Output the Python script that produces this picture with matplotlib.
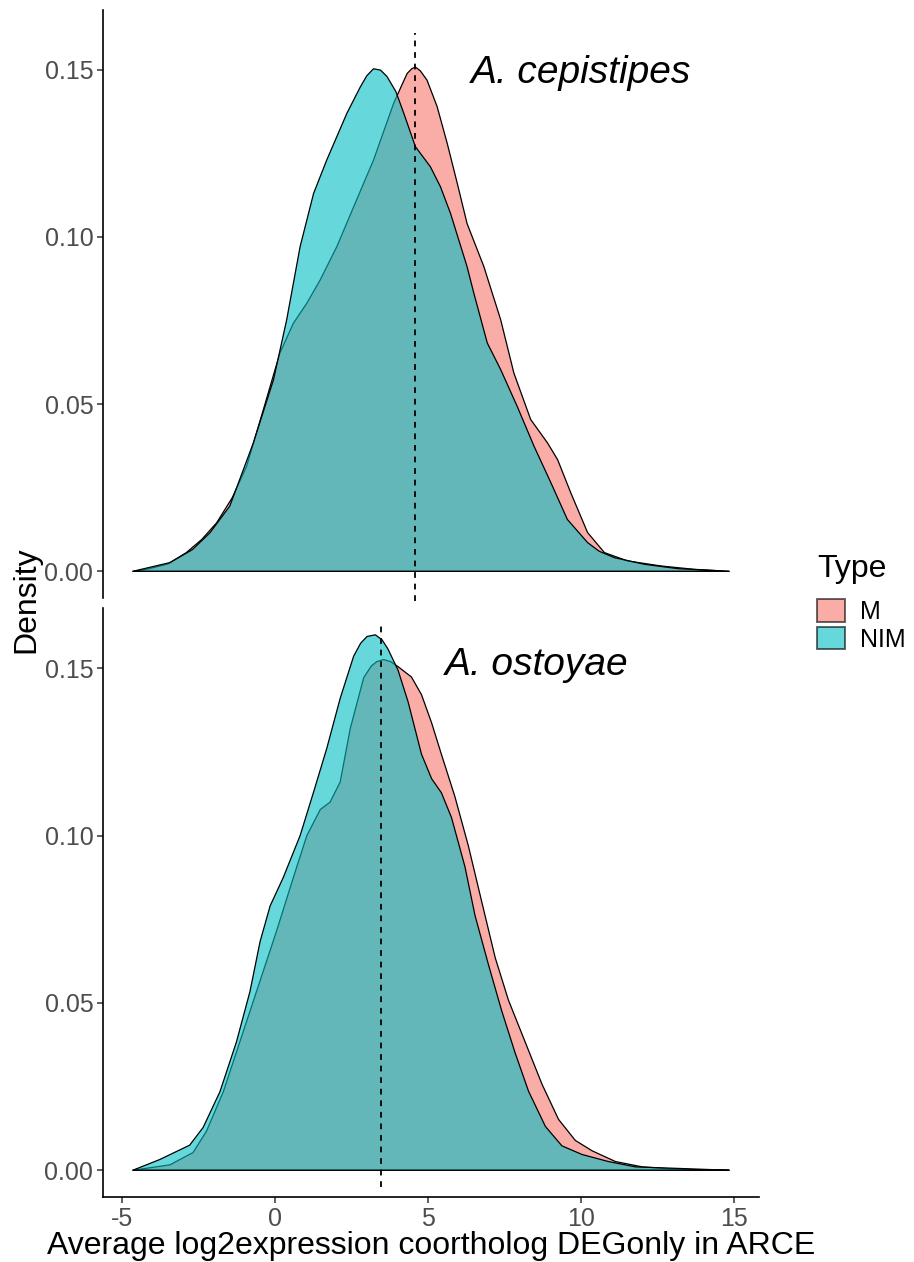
import matplotlib
matplotlib.use("Agg")
import matplotlib.pyplot as plt
from matplotlib.patches import Patch

plt.rcParams['font.family'] = ['Liberation Sans', 'DejaVu Sans']
plt.rcParams['axes.unicode_minus'] = False

# density curves (x = avg log2 expression, y = density)
cep_m_x = [-4.65, -4.2, -3.5, -2.90, -2.4, -1.91, -1.4, -0.93, -0.38, 0.16, 0.60, 1.04,
           1.48, 2.02, 2.57, 3.22, 3.88, 4.15, 4.32, 4.47, 4.59, 4.75, 4.97, 5.30, 5.63,
           5.96, 6.28, 6.83, 7.38, 7.81, 8.36, 8.91, 9.24, 9.67, 10.22, 10.77, 11.53,
           12.62, 13.7, 14.85]
cep_m_y = [0.0, 0.0006, 0.0022, 0.0056, 0.0095, 0.0145, 0.0220, 0.0314, 0.0484, 0.0653,
           0.0742, 0.0802, 0.0872, 0.0971, 0.109, 0.123, 0.140, 0.1455, 0.1489, 0.1503,
           0.1508, 0.1497, 0.1469, 0.139, 0.128, 0.116, 0.104, 0.0911, 0.0752, 0.0593,
           0.0454, 0.0384, 0.0334, 0.0235, 0.0116, 0.0056, 0.0031, 0.0016, 0.0006, 0.0]

cep_nim_x = [-4.65, -3.44, -2.7, -2.13, -1.48, -0.71, -0.05, 0.38, 0.82, 1.26, 1.69, 2.35,
             2.79, 3.0, 3.22, 3.45, 3.66, 3.95, 4.21, 4.59, 5.08, 5.41, 5.74, 6.28, 6.50,
             6.94, 7.38, 7.92, 8.47, 9.02, 9.56, 10.22, 10.6, 11.09, 12.08, 13.17, 14.85]
cep_nim_y = [0.0, 0.0026, 0.0065, 0.0115, 0.0195, 0.0384, 0.0573, 0.0752, 0.0971, 0.113,
             0.123, 0.137, 0.1449, 0.1482, 0.1503, 0.1499, 0.148, 0.1435, 0.137, 0.127,
             0.121, 0.115, 0.107, 0.0911, 0.0832, 0.0683, 0.0603, 0.0493, 0.0374, 0.0265,
             0.0155, 0.0086, 0.0060, 0.0041, 0.0021, 0.0008, 0.0]

ost_m_x = [-4.65, -3.44, -2.68, -2.24, -1.69, -1.15, -0.49, 0.05, 0.60, 1.04, 1.48, 1.80,
           2.13, 2.46, 2.90, 3.15, 3.33, 3.55, 3.78, 4.02, 4.46, 4.79, 5.12, 5.44, 5.88,
           6.32, 6.76, 7.20, 7.63, 8.18, 8.73, 9.27, 9.82, 10.37, 11.13, 12.01, 13.1, 14.85]
ost_m_y = [0.0, 0.0016, 0.0053, 0.0117, 0.0235, 0.0384, 0.0566, 0.0715, 0.0875, 0.100,
           0.1078, 0.110, 0.116, 0.132, 0.1472, 0.1507, 0.152, 0.1526, 0.1520, 0.1505,
           0.1474, 0.1421, 0.1337, 0.1243, 0.1117, 0.097, 0.0802, 0.0635, 0.0509, 0.0383,
           0.0257, 0.0152, 0.0089, 0.0058, 0.0026, 0.001, 0.0003, 0.0]

ost_nim_x = [-4.65, -3.77, -2.79, -2.35, -1.80, -1.26, -0.82, -0.49, -0.16, 0.27, 0.82,
             1.26, 1.69, 2.13, 2.57, 2.80, 3.01, 3.28, 3.50, 3.69, 4.02, 4.35, 4.79, 5.12,
             5.44, 5.77, 6.21, 6.54, 6.98, 7.41, 7.85, 8.29, 8.84, 9.38, 10.04, 10.9,
             11.79, 14.85]
ost_nim_y = [0.0, 0.0032, 0.0075, 0.0128, 0.0235, 0.0384, 0.0534, 0.0683, 0.079, 0.0875,
             0.100, 0.113, 0.126, 0.141, 0.1536, 0.1575, 0.1595, 0.160, 0.1585, 0.1558,
             0.1495, 0.140, 0.1243, 0.117, 0.1128, 0.1054, 0.0907, 0.0761, 0.0614, 0.0477,
             0.0351, 0.0236, 0.0131, 0.0073, 0.0047, 0.0026, 0.001, 0.0]

species = ["A. cepistipes", "A. ostoyae"]
medians = [4.59, 3.475]
label_pos = [(10.0, 0.149), (8.55, 0.151)]
types = ["M", "NIM"]
colors = {"M": "#F8766D", "NIM": "#00BFC4"}

curves = [
    {"M": (cep_m_x, cep_m_y), "NIM": (cep_nim_x, cep_nim_y)},
    {"M": (ost_m_x, ost_m_y), "NIM": (ost_nim_x, ost_nim_y)},
]
vline_span = [(-0.009, 0.161), (-0.005, 0.164)]

fig = plt.figure(figsize=(9.14, 12.62), dpi=100)
ax_top = fig.add_axes([0.1127, 0.5261, 0.7177, 0.4663])
ax_bot = fig.add_axes([0.1127, 0.0515, 0.7177, 0.4667])
axes = [ax_top, ax_bot]

for i, ax in enumerate(axes):
    for t in types:
        xs, ys = curves[i][t]
        ax.fill(xs, ys, facecolor=colors[t], alpha=0.6, edgecolor='none', zorder=2)
        ax.fill(xs, ys, facecolor='none', edgecolor='black', linewidth=0.9,
                joinstyle='round', zorder=2)
    y0, y1 = vline_span[i]
    ax.plot([medians[i], medians[i]], [y0, y1], color='black', linewidth=1.3,
            dashes=(3.2, 3.2), zorder=3, clip_on=False)
    ax.text(label_pos[i][0], label_pos[i][1], species[i], style='italic',
            fontsize=28, ha='center', va='center')

    ax.set_xlim(-5.625, 15.825)
    ax.set_ylim(-0.008, 0.168)
    ax.set_yticks([0.0, 0.05, 0.10, 0.15])
    ax.set_yticklabels(["0.00", "0.05", "0.10", "0.15"])
    ax.tick_params(axis='both', labelsize=18, labelcolor='#4D4D4D', color='#333333',
                   length=4, width=1.1, pad=3)
    for s in ['top', 'right']:
        ax.spines[s].set_visible(False)
    ax.spines['left'].set_linewidth(1.2)
    ax.spines['bottom'].set_linewidth(1.2)

ax_top.spines['bottom'].set_visible(False)
ax_top.set_xticks([])
ax_bot.set_xticks([-5, 0, 5, 10, 15])
ax_bot.set_xlabel("Average log2expression coortholog DEGonly in ARCE", fontsize=23,
                  labelpad=0)

fig.text(0.029, 0.525, "Density", rotation=90, fontsize=23, ha='center', va='center')

handles = [Patch(facecolor=colors[t], alpha=0.6, edgecolor='black', linewidth=1.4)
           for t in types]
leg = fig.legend(handles, types, title="Type", loc='upper left',
                 bbox_to_anchor=(0.894, 0.561), frameon=False, fontsize=18,
                 title_fontsize=23, handlelength=1.1, handleheight=1.0,
                 handletextpad=0.6, labelspacing=0.12, borderaxespad=0,
                 borderpad=0)
leg._legend_box.align = "left"
leg._legend_box.sep = 11

fig.savefig("out.png", dpi=100)
